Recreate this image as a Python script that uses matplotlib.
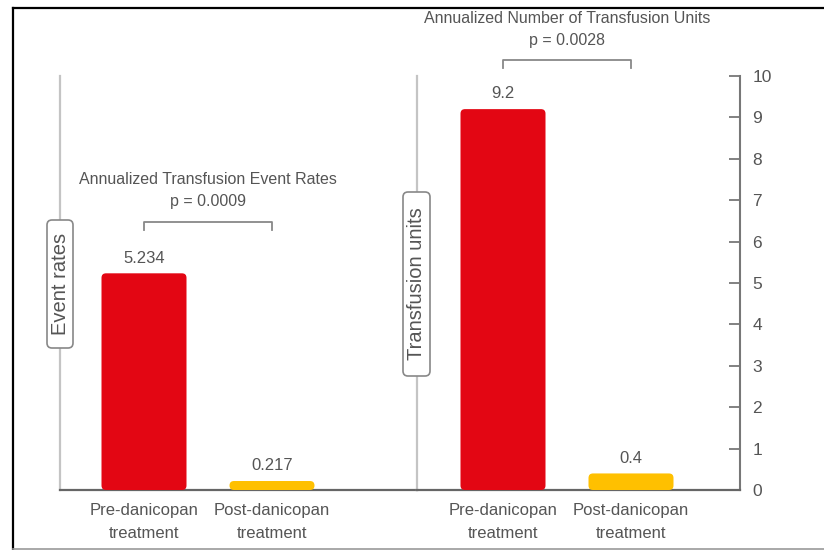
import matplotlib
matplotlib.use('Agg')
import matplotlib.pyplot as plt
from matplotlib.patches import FancyBboxPatch
from matplotlib.lines import Line2D

# data
groups = ['Pre-danicopan\ntreatment', 'Post-danicopan\ntreatment']
event_rates = [5.234, 0.217]
event_labels = ['5.234', '0.217']
units = [9.2, 0.4]
unit_labels = ['9.2', '0.4']
bar_colors = ['#E30613', '#FFC000']
left_title = 'Annualized Transfusion Event Rates'
left_p = 'p = 0.0009'
right_title = 'Annualized Number of Transfusion Units'
right_p = 'p = 0.0028'
yticks = list(range(0, 11))

plt.rcParams['font.family'] = ['Liberation Sans', 'DejaVu Sans']
txt = '#555555'
W, H = 824, 550
fig = plt.figure(figsize=(W / 100, H / 100), dpi=100)

def fpos(x0, x1, ytop, ybot):
    return [x0 / W, 1 - ybot / H, (x1 - x0) / W, (ybot - ytop) / H]

ax1 = fig.add_axes(fpos(60, 417, 76, 490))
ax2 = fig.add_axes(fpos(417, 740, 76, 490))

pxx = 128.0          # pixels per x unit
pxy = 414 / 10.0     # pixels per y unit
ax1.set_xlim(-(144 - 60) / pxx, -(144 - 60) / pxx + 357 / pxx)
ax2.set_xlim(-(503 - 417) / pxx, -(503 - 417) / pxx + 323 / pxx)


def rounded_bars(ax, vals, rad=4.5):
    bars = ax.bar([0, 1], vals, width=85 / pxx, color=bar_colors)
    for b in bars:
        b.set_visible(False)
        p = FancyBboxPatch((b.get_x(), b.get_y()), b.get_width(), b.get_height(),
                           boxstyle='round,pad=0,rounding_size=%f' % (rad / pxx),
                           mutation_aspect=pxx / pxy, facecolor=b.get_facecolor(),
                           edgecolor='none', zorder=3)
        ax.add_patch(p)
    return bars


for ax, vals, labs in [(ax1, event_rates, event_labels), (ax2, units, unit_labels)]:
    rounded_bars(ax, vals)
    ax.set_ylim(0, 10)
    for i, (v, l) in enumerate(zip(vals, labs)):
        ax.annotate(l, (i, v), xytext=(0, 11), textcoords='offset points',
                    ha='center', va='center', fontsize=12, color=txt)
    ax.set_xticks([0, 1])
    ax.set_xticklabels(groups, fontsize=12, color=txt, linespacing=1.62)
    ax.tick_params(axis='x', length=0, pad=9.5)
    ax.spines['top'].set_visible(False)
    ax.spines['right'].set_visible(False)
    ax.spines['left'].set_color('#c4c4c4')
    ax.spines['left'].set_linewidth(1.6)
    ax.spines['bottom'].set_color('#666666')
    ax.spines['bottom'].set_linewidth(1.6)
    ax.set_facecolor('none')

ax1.set_yticks([])
ax2.spines['right'].set_visible(True)
ax2.spines['right'].set_color('#777777')
ax2.spines['right'].set_linewidth(1.5)
ax2.yaxis.tick_right()
ax2.set_yticks(yticks)
ax2.tick_params(axis='y', direction='in', length=8, width=1.3, color='#777777',
                labelsize=12.5, labelcolor=txt, pad=9, left=False)

# brackets and titles
def bracket(ax, y, drop, title, ptxt, dy=0.0):
    ax.plot([0, 0, 1, 1], [y - drop, y, y, y - drop], color='#888888', lw=1.3, clip_on=False)
    ax.text(0.5, y + 0.53 - dy, ptxt, ha='center', va='center', fontsize=11.5, color=txt, clip_on=False)
    ax.text(0.5, y + 1.07 - dy, title, ha='center', va='center', fontsize=11.5, color=txt, clip_on=False)

bracket(ax1, 6.47, 0.19, left_title, left_p, dy=0.03)
bracket(ax2, 10.39, 0.19, right_title, right_p, dy=0.06)

# axis label boxes sitting on the vertical lines
def label_box(x0, x1, ytop, ybot, text):
    patch = FancyBboxPatch((x0 / W, 1 - ybot / H), (x1 - x0) / W, (ybot - ytop) / H,
                           boxstyle='round,pad=0,rounding_size=%f' % (5 / W),
                           mutation_aspect=W / H, transform=fig.transFigure,
                           facecolor='white', edgecolor='#888888', lw=1.2, zorder=5)
    fig.add_artist(patch)
    fig.text((x0 + x1) / 2 / W + 0.5 / W, 1 - (ytop + ybot) / 2 / H, text, rotation=90,
             ha='center', va='center', fontsize=14.5, color=txt, zorder=6)

label_box(47, 73, 220, 348, 'Event rates')
label_box(403, 430, 192, 376, 'Transfusion units')

# outer frame
fig.add_artist(Line2D([13 / W, 13 / W], [1 - 549 / H, 1 - 8 / H], color='black', lw=1.6))
fig.add_artist(Line2D([13 / W, 1], [1 - 8 / H, 1 - 8 / H], color='black', lw=1.6))
fig.add_artist(Line2D([13 / W, 1], [1 - 549 / H, 1 - 549 / H], color='#999999', lw=1.2))

fig.savefig('out.png', dpi=100)
